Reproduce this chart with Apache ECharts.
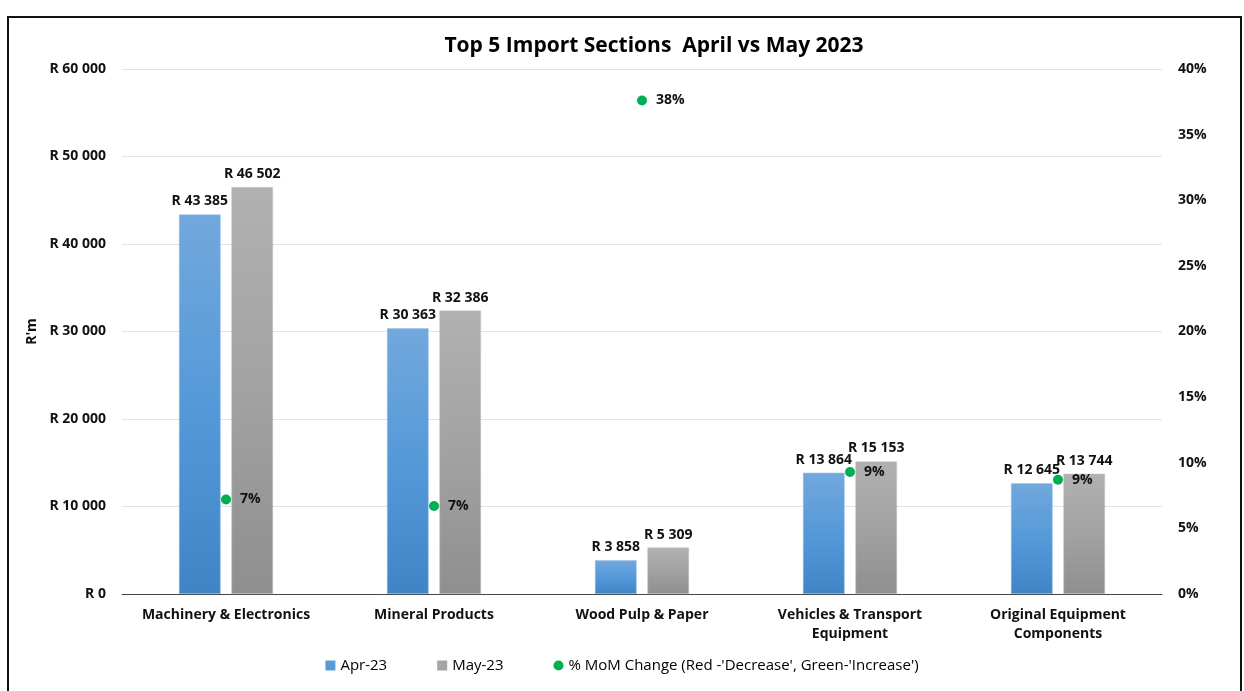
<!DOCTYPE html>
<html>
<head>
<meta charset="utf-8">
<script src="https://cdn.jsdelivr.net/npm/echarts@6/dist/echarts.min.js"></script>
<style>
  html, body { margin: 0; padding: 0; background: #fff; }
  #chart { width: 1244px; height: 691px; }
</style>
</head>
<body>
<div id="chart"></div>
<script>
// categories and values
const categories = [
  'Machinery & Electronics',
  'Mineral Products',
  'Wood Pulp & Paper',
  'Vehicles & Transport\nEquipment',
  'Original Equipment\nComponents'
]
const apr23 = [43385, 30363, 3858, 13864, 12645]
const may23 = [46502, 32386, 5309, 15153, 13744]
// month on month change (fraction)
const momChange = [0.072, 0.067, 0.376, 0.093, 0.087]
const leftTicks = [0, 60000, 10000] // min, max, step
const rightTicks = [0, 0.4, 0.05]

const fontMain = '"Open Sans", "Liberation Sans", sans-serif'

// R 43 385 style
function rand(v) {
  return 'R ' + String(Math.round(v)).replace(/\B(?=(\d{3})+(?!\d))/g, ' ')
}

const chart = echarts.init(document.getElementById('chart'))

const labelStyle = {
  fontFamily: fontMain,
  fontSize: 14,
  fontWeight: 'bold',
  color: '#111'
}

const option = {
  backgroundColor: '#fff',
  animation: false,
  title: {
    text: 'Top 5 Import Sections  April vs May 2023',
    left: 649,
    textAlign: 'center',
    top: 31,
    textStyle: { fontFamily: fontMain, fontSize: 21, fontWeight: 'bold', color: '#000' }
  },
  graphic: [
    {
      type: 'rect',
      shape: { x: 8, y: 17, width: 1233, height: 690 },
      style: { fill: 'none', stroke: '#111', lineWidth: 2 },
      silent: true
    }
  ],
  legend: {
    bottom: 13,
    left: 'center',
    itemGap: 50,
    itemWidth: 10,
    itemHeight: 10,
    textStyle: { fontFamily: fontMain, fontSize: 15, color: '#000' },
    data: [
      { name: 'Apr-23', icon: 'rect', itemStyle: { color: '#5b9bd5', borderWidth: 0 } },
      { name: 'May-23', icon: 'rect', itemStyle: { color: '#a5a5a5', borderWidth: 0 } },
      { name: "% MoM Change (Red -'Decrease', Green-'Increase')", icon: 'circle', itemStyle: { color: '#00b050', opacity: 1 } }
    ]
  },
  grid: { left: 122, right: 82, top: 69, bottom: 97 },
  xAxis: {
    type: 'category',
    data: categories,
    axisTick: { show: false },
    axisLine: { lineStyle: { color: '#444', width: 1 } },
    axisLabel: Object.assign({ interval: 0, margin: 12, lineHeight: 19 }, labelStyle)
  },
  yAxis: [
    {
      type: 'value',
      min: leftTicks[0],
      max: leftTicks[1],
      interval: leftTicks[2],
      name: "R'm",
      nameLocation: 'middle',
      nameGap: 82,
      nameRotate: 90,
      nameTextStyle: labelStyle,
      axisLabel: Object.assign({ margin: 16, formatter: rand }, labelStyle),
      splitLine: { lineStyle: { color: '#dde4ec', width: 1 } },
      axisLine: { show: false },
      axisTick: { show: false }
    },
    {
      type: 'value',
      min: rightTicks[0],
      max: rightTicks[1],
      interval: rightTicks[2],
      axisLabel: Object.assign({ margin: 16, formatter: v => Math.round(v * 100) + '%' }, labelStyle),
      splitLine: { show: false },
      axisLine: { show: false },
      axisTick: { show: false }
    }
  ],
  series: [
    {
      name: 'Apr-23',
      type: 'bar',
      data: apr23,
      barWidth: '20%',
      barGap: '26%',
      itemStyle: {
        color: new echarts.graphic.LinearGradient(0, 0, 0, 1, [
          { offset: 0, color: '#72a8dc' },
          { offset: 0.5, color: '#5599d9' },
          { offset: 1, color: '#3f85c6' }
        ]),
        borderColor: '#9cc3e8',
        borderWidth: 0.5
      },
      label: Object.assign({ show: true, position: 'top', distance: 6, formatter: p => rand(p.value) }, labelStyle)
    },
    {
      name: 'May-23',
      type: 'bar',
      data: may23,
      barWidth: '20%',
      itemStyle: {
        color: new echarts.graphic.LinearGradient(0, 0, 0, 1, [
          { offset: 0, color: '#b1b1b1' },
          { offset: 0.5, color: '#a2a2a2' },
          { offset: 1, color: '#8f8f8f' }
        ]),
        borderColor: '#c8c8c8',
        borderWidth: 0.5
      },
      label: Object.assign({ show: true, position: 'top', distance: 6, formatter: p => rand(p.value) }, labelStyle)
    },
    {
      name: "% MoM Change (Red -'Decrease', Green-'Increase')",
      type: 'scatter',
      yAxisIndex: 1,
      data: momChange,
      symbol: 'circle',
      symbolSize: 10,
      itemStyle: { color: '#00b050', opacity: 1 },
      label: Object.assign({
        show: true,
        position: 'right',
        distance: 9,
        formatter: p => Math.round(p.value * 100) + '%'
      }, labelStyle),
      z: 5
    }
  ]
}

chart.setOption(option)
</script>
</body>
</html>
